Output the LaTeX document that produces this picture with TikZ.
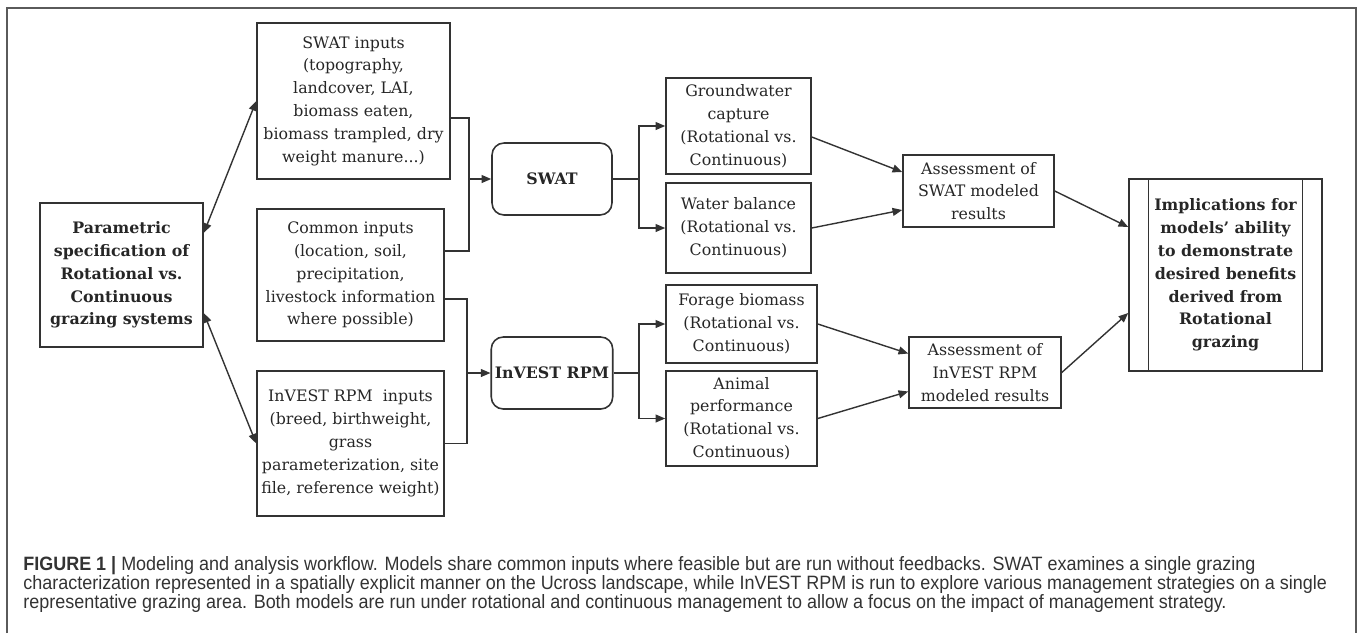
\documentclass[tikz,border=0pt]{standalone}
\usepackage{fontspec}
\setmainfont{DejaVu Serif}
\newfontfamily\capfont[FakeStretch=0.93]{Liberation Sans}
\usetikzlibrary{positioning,arrows.meta,calc}
\definecolor{LineGray}{HTML}{333333}
\definecolor{FrameGray}{HTML}{5A5A5A}
\definecolor{CapGray}{HTML}{333333}

\begin{document}
\begin{tikzpicture}[
  x=0.02cm, y=-0.02cm,
  font=\fontsize{9}{13}\selectfont,
  box/.style={draw=LineGray,line width=0.9pt,align=center,inner sep=2pt,
              text=black!85},
  model/.style={box,rounded corners=0.24cm,font=\fontsize{9}{13}\selectfont\bfseries},
  ln/.style={draw=LineGray,line width=0.8pt},
  ar/.style={ln,-{Triangle[length=5.5pt,width=4.5pt]}},
  arr/.style={ln,{Triangle[length=5.5pt,width=4.5pt]}-{Triangle[length=5.5pt,width=4.5pt]}},
]
\useasboundingbox (0,0) rectangle (1357,633);
\draw[FrameGray,line width=0.8pt] (7,633) -- (7,8) -- (1356,8) -- (1356,633);

\node[box,minimum width=3.26cm,minimum height=2.88cm,font=\fontsize{9}{13}\selectfont\bfseries] (par) at (121.5,275)
  {Parametric\\specification of\\Rotational vs.\\Continuous\\grazing systems};
\node[box,minimum width=3.86cm,minimum height=3.12cm] (swin) at (353.5,101)
  {SWAT inputs\\(topography,\\landcover, LAI,\\biomass eaten,\\biomass trampled, dry\\weight manure...)};
\node[box,minimum width=3.74cm,minimum height=2.64cm] (comin) at (350.5,275)
  {Common inputs\\(location, soil,\\precipitation,\\livestock information\\where possible)};
\node[box,minimum width=3.74cm,minimum height=2.90cm] (rpmin) at (350.5,443.5)
  {InVEST RPM\ \ inputs\\(breed, birthweight,\\grass\\parameterization, site\\file, reference weight)};

\node[model,minimum width=2.40cm,minimum height=1.44cm] (swat) at (552,179) {SWAT};
\node[model,minimum width=2.40cm,minimum height=1.44cm] (rpm) at (552,373) {InVEST RPM};

\node[box,minimum width=2.90cm,minimum height=1.92cm] (gw) at (738.5,126)
  {Groundwater\\capture\\(Rotational vs.\\Continuous)};
\node[box,minimum width=2.90cm,minimum height=1.80cm] (wb) at (738.5,228)
  {Water balance\\(Rotational vs.\\Continuous)};
\node[box,minimum width=3.02cm,minimum height=1.56cm] (fb) at (741.5,324)
  {Forage biomass\\(Rotational vs.\\Continuous)};
\node[box,minimum width=3.02cm,minimum height=1.90cm] (ap) at (741.5,418.5)
  {Animal\\performance\\(Rotational vs.\\Continuous)};

\node[box,minimum width=3.02cm,minimum height=1.44cm] (asw) at (978.5,191)
  {Assessment of\\SWAT modeled\\results};
\node[box,minimum width=3.04cm,minimum height=1.42cm] (arp) at (985,372.5)
  {Assessment of\\InVEST RPM\\modeled results};

\node[box,minimum width=3.86cm,minimum height=3.84cm,font=\fontsize{9}{13}\selectfont\bfseries] (imp) at (1225.5,275)
  {Implications for\\models' ability\\to demonstrate\\desired benefits\\derived from\\Rotational\\grazing};
\draw[ln] ($(imp.north west)+(20,0)$) -- ($(imp.south west)+(20,0)$);
\draw[ln] ($(imp.north east)+(-20,0)$) -- ($(imp.south east)+(-20,0)$);

\coordinate (swbus) at (469,179);
\coordinate (rpmbus) at (467,373);
\coordinate (swsplit) at (639,179);
\coordinate (rpmsplit) at (639,373);

\draw[arr] ($(par.east)+(0,-42)$) -- (swin.west);
\draw[arr] ($(par.east)+(0,38)$) -- (rpmin.west);

\draw[ln] ($(swin.east)+(0,17)$) -| (swbus) |- ($(comin.east)+(0,-24)$);
\draw[ar] (swbus) -- (swat);
\draw[ln] ($(comin.east)+(0,24)$) -| (rpmbus) |- (rpmin.east);
\draw[ar] (rpmbus) -- (rpm);

\draw[ln] (swat) -- (swsplit);
\draw[ar] (swsplit) |- (gw.west);
\draw[ar] (swsplit) |- (wb.west);
\draw[ln] (rpm) -- (rpmsplit);
\draw[ar] (rpmsplit) |- (fb.west);
\draw[ar] (rpmsplit) |- (ap.west);

\draw[ar] ($(gw.east)+(0,11)$) -- ($(asw.west)+(0,-19)$);
\draw[ar] (wb.east) -- ($(asw.west)+(0,19)$);
\draw[ar] (fb.east) -- ($(arp.west)+(0,-19)$);
\draw[ar] (ap.east) -- ($(arp.west)+(0,19)$);
\draw[ar] (asw.east) -- ($(imp.west)+(0,-48)$);
\draw[ar] (arp.east) -- ($(imp.west)+(0,38)$);

\node[anchor=north west,align=left,inner sep=0pt,text=CapGray,
      font=\capfont\fontsize{11}{10.8}\selectfont] (cap) at (23,556)
  {\textbf{FIGURE 1 |} Modeling and analysis workflow. Models share common inputs where feasible but are run without feedbacks. SWAT examines a single grazing\\
   characterization represented in a spatially explicit manner on the Ucross landscape, while InVEST RPM is run to explore various management strategies on a single\\
   representative grazing area. Both models are run under rotational and continuous management to allow a focus on the impact of management strategy.};
\end{tikzpicture}
\end{document}
